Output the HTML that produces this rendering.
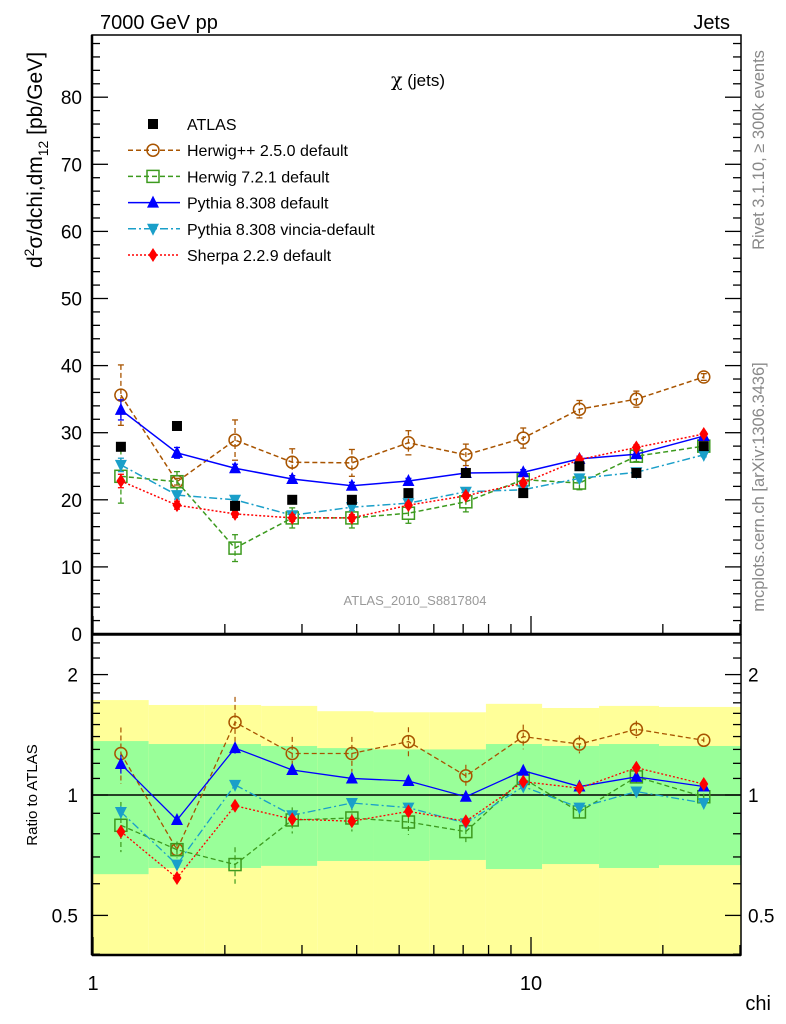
<!DOCTYPE html>
<html><head><meta charset="utf-8"><style>
body{margin:0;background:#fff}
svg{display:block;font-family:"Liberation Sans",sans-serif}
</style></head><body>
<svg id="c" width="786" height="1024" viewBox="0 0 786 1024"></svg>
<script>
const chis=[1.158,1.555,2.11,2.85,3.9,5.25,7.1,9.6,12.9,17.4,24.8];
const binEdges=[1.0,1.34,1.8,2.42,3.25,4.37,5.87,7.89,10.6,14.3,19.6,30.2];
const atlas=[27.9,31,19.1,20,20,21,24,21,25,24,28];
const herwigpp=[35.6,22.7,28.9,25.6,25.5,28.5,26.7,29.2,33.5,35,38.3];
const herwigppErr=[4.5,0.5,3,2,2,1.8,1.6,1.5,1.3,1.2,0.5];
const herwig7=[23.5,22.7,12.8,17.3,17.3,18,19.7,23,22.5,26.5,28];
const herwig7Err=[4,1.5,2,1.5,1.5,1.5,1.5,1,1,0.8,0.5];
const pythia=[33.4,27,24.7,23.1,22.1,22.8,24,24.1,26.1,26.8,29.5];
const pythiaErr=[1.5,0.8,0.6,0.5,0.5,0.4,0.4,0.4,0.4,0.4,0.3];
const vincia=[25.2,20.7,20,17.7,18.9,19.5,21.2,21.5,23.2,24.1,26.7];
const vinciaErr=[1,0.6,0.5,0.5,0.5,0.4,0.4,0.4,0.4,0.4,0.3];
const sherpa=[22.8,19.2,17.9,17.3,17.3,19.2,20.6,22.5,26,27.8,29.8];
const sherpaErr=[1,0.6,0.5,0.5,0.5,0.4,0.4,0.4,0.4,0.4,0.3];
const rHerwigpp=[1.27,0.73,1.52,1.27,1.27,1.36,1.116,1.40,1.34,1.46,1.37];
const rHerwig7=[0.84,0.73,0.67,0.866,0.876,0.856,0.81,1.10,0.907,1.11,0.99];
const rPythia=[1.195,0.866,1.31,1.155,1.10,1.084,0.99,1.15,1.05,1.11,1.05];
const rVincia=[0.907,0.67,1.06,0.89,0.955,0.93,0.85,1.05,0.93,1.02,0.955];
const rSherpa=[0.81,0.62,0.94,0.87,0.86,0.91,0.86,1.08,1.04,1.17,1.065];
const yellowTop=[1.727,1.679,1.679,1.67,1.62,1.61,1.61,1.69,1.65,1.67,1.66];
const greenTop=[1.364,1.341,1.341,1.326,1.31,1.30,1.30,1.341,1.326,1.341,1.326];
const greenBot=[0.634,0.657,0.657,0.665,0.684,0.684,0.688,0.653,0.672,0.657,0.668];
const mainTicks=[0,10,20,30,40,50,60,70,80];
const ratioTicks=[0.5,1,2];
const xTickLabels=[1,10];

const NS="http://www.w3.org/2000/svg";
const svg=document.getElementById('c');
const L=92,R=741,T=35,MB=634,RT=635,RB=955;
const X=c=>93+438*Math.log10(c);
const Y=v=>634-6.71*v;
const YR=r=>795-400*Math.log10(r);
function el(tag,attrs,parent){const e=document.createElementNS(NS,tag);for(const k in attrs)e.setAttribute(k,attrs[k]);(parent||svg).appendChild(e);return e;}
function txt(s,attrs,parent){const e=el('text',attrs,parent);e.textContent=s;return e;}

const gb=el('g',{});


for(let i=0;i<chis.length;i++){
  const x0=Math.max(X(binEdges[i]),L),x1=Math.min(X(binEdges[i+1]),R);
  const y=el('rect',{x:x0,y:YR(yellowTop[i]),width:x1-x0,height:RB-YR(yellowTop[i]),fill:'#ffff99'},gb);
  
  
  const g=el('rect',{x:x0,y:YR(greenTop[i]),width:x1-x0,height:YR(greenBot[i])-YR(greenTop[i]),fill:'#99ff99'},gb);
  
  
}
el('line',{x1:L,x2:R,y1:YR(1),y2:YR(1),stroke:'#000','stroke-width':1.5});

el('rect',{x:L,y:T,width:R-L,height:MB-T,fill:'none',stroke:'#000','stroke-width':1.5});
el('rect',{x:L,y:RT,width:R-L,height:RB-RT,fill:'none',stroke:'#000','stroke-width':1.5});
el('line',{x1:L,x2:L,y1:T,y2:RB,stroke:'#000','stroke-width':2.5});
el('line',{x1:L,x2:R,y1:MB,y2:MB,stroke:'#000','stroke-width':2.5});
el('line',{x1:L,x2:R,y1:RB,y2:RB,stroke:'#000','stroke-width':2.5});

for(let v=0;v<=88;v+=2){const maj=v%10==0;const l=maj?16:8;
  el('line',{x1:L,x2:L+l,y1:Y(v),y2:Y(v),stroke:'#000','stroke-width':1.3});
  el('line',{x1:R,x2:R-l,y1:Y(v),y2:Y(v),stroke:'#000','stroke-width':1.3});}
mainTicks.forEach(v=>{const t=txt(v,{x:82,y:Y(v)+7,'text-anchor':'end','font-size':19});
  
  });
const rMinor=[0.4,0.6,0.7,0.8,0.9,1.1,1.2,1.3,1.4,1.5,1.6,1.7,1.8,1.9,2.2,2.4];
rMinor.forEach(r=>{el('line',{x1:L,x2:L+8,y1:YR(r),y2:YR(r),stroke:'#000','stroke-width':1.3});el('line',{x1:R,x2:R-8,y1:YR(r),y2:YR(r),stroke:'#000','stroke-width':1.3});});
ratioTicks.forEach(r=>{el('line',{x1:L,x2:L+16,y1:YR(r),y2:YR(r),stroke:'#000','stroke-width':1.3});el('line',{x1:R,x2:R-16,y1:YR(r),y2:YR(r),stroke:'#000','stroke-width':1.3});
  const a=txt(r,{x:78,y:YR(r)+7,'text-anchor':'end','font-size':19});
  
  
  const b=txt(r,{x:748,y:YR(r)+7,'font-size':19});
  
  });
const xt=[];for(let d=1;d<=10;d*=10)for(let k=1;k<10;k++){const v=k*d;if(v<=30)xt.push(v);}
xt.forEach(v=>{const maj=(v==1||v==10);const l=maj?18:10;
  [MB,RB].forEach(b=>el('line',{x1:X(v),x2:X(v),y1:b,y2:b-l,stroke:'#000','stroke-width':1.3}));});
xTickLabels.forEach(v=>{const t=txt(v,{x:X(v),y:990,'text-anchor':'middle','font-size':20});
  
  });

function marker(type,x,y,color,g){
  if(type=='sq')el('rect',{x:x-5,y:y-5,width:10,height:10,fill:'#000'},g);
  else if(type=='circ')el('circle',{cx:x,cy:y,r:6,fill:'none',stroke:color,'stroke-width':1.5},g);
  else if(type=='osq')el('rect',{x:x-6,y:y-6,width:12,height:12,fill:'none',stroke:color,'stroke-width':1.5},g);
  else if(type=='tu')el('polygon',{points:`${x},${y-7} ${x-6},${y+5} ${x+6},${y+5}`,fill:color},g);
  else if(type=='td')el('polygon',{points:`${x},${y+7} ${x-6},${y-5} ${x+6},${y-5}`,fill:color},g);
  else if(type=='dia')el('polygon',{points:`${x},${y-7} ${x-4.5},${y} ${x},${y+7} ${x+4.5},${y}`,fill:color},g);
}
const series=[
 {name:'herwigpp',vals:herwigpp,err:herwigppErr,rv:rHerwigpp,color:'#a85400',dash:'5,3',m:'circ'},
 {name:'herwig7',vals:herwig7,err:herwig7Err,rv:rHerwig7,color:'#3c9a1e',dash:'5,3',m:'osq'},
 {name:'pythia',vals:pythia,err:pythiaErr,rv:rPythia,color:'#0000ff',dash:'',m:'tu'},
 {name:'vincia',vals:vincia,err:vinciaErr,rv:rVincia,color:'#1a9fc9',dash:'8,3,2,3',m:'td'},
 {name:'sherpa',vals:sherpa,err:sherpaErr,rv:rSherpa,color:'#ff0000',dash:'2,2',m:'dia'}];
series.forEach(s=>{
  const g=el('g',{});
  
  
  el('polyline',{points:chis.map((c,i)=>X(c)+','+Y(s.vals[i])).join(' '),fill:'none',stroke:s.color,'stroke-width':1.5,'stroke-dasharray':s.dash},g);
  el('polyline',{points:chis.map((c,i)=>X(c)+','+YR(s.rv[i])).join(' '),fill:'none',stroke:s.color,'stroke-width':1.3,'stroke-dasharray':s.dash},g);
  chis.forEach((c,i)=>{const x=X(c);
    const y0=Y(s.vals[i]+s.err[i]),y1=Y(s.vals[i]-s.err[i]);
    el('line',{x1:x,x2:x,y1:y0,y2:y1,stroke:s.color,'stroke-width':1.3,'stroke-dasharray':s.dash},g);
    el('line',{x1:x-3,x2:x+3,y1:y0,y2:y0,stroke:s.color,'stroke-width':1.3},g);
    el('line',{x1:x-3,x2:x+3,y1:y1,y2:y1,stroke:s.color,'stroke-width':1.3},g);
    const rel=s.err[i]/atlas[i];
    const r0=YR(s.rv[i]*(1+rel)),r1=YR(s.rv[i]*(1-rel));
    el('line',{x1:x,x2:x,y1:r0,y2:r1,stroke:s.color,'stroke-width':1.2,'stroke-dasharray':s.dash},g);
    marker(s.m,x,Y(s.vals[i]),s.color,g);
    marker(s.m,x,YR(s.rv[i]),s.color,g);
  });
});
const ga=el('g',{});


chis.forEach((c,i)=>marker('sq',X(c),Y(atlas[i]),'#000',ga));

const leg=[['ATLAS','#000','','sq'],['Herwig++ 2.5.0 default','#a85400','5,3','circ'],['Herwig 7.2.1 default','#3c9a1e','5,3','osq'],['Pythia 8.308 default','#0000ff','','tu'],['Pythia 8.308 vincia-default','#1a9fc9','8,3,2,3','td'],['Sherpa 2.2.9 default','#ff0000','2,2','dia']];
leg.forEach((e,i)=>{const y=124+i*26.2;const g=el('g',{});
  
  
  if(i>0)el('line',{x1:128,x2:180,y1:y,y2:y,stroke:e[1],'stroke-width':1.5,'stroke-dasharray':e[2]},g);
  marker(e[3],153,y,e[1],g);
  txt(e[0],{x:187,y:y+6,'font-size':16},g);});
</script>
<div style="position:absolute;left:0;top:0;width:786px;height:1024px;pointer-events:none">
<svg width="786" height="1024" style="font-family:'Liberation Sans',sans-serif">
<text x="100" y="29" font-size="20">7000 GeV pp</text>
<text x="730" y="29" font-size="20" text-anchor="end">Jets</text>
<text x="418" y="86" font-size="17" text-anchor="middle"><tspan font-family="'DejaVu Serif',serif" font-size="19">χ</tspan> (jets)</text>
<text x="415" y="605" font-size="13" fill="#999" text-anchor="middle">ATLAS_2010_S8817804</text>
<text transform="translate(42,160) rotate(-90)" font-size="21" text-anchor="middle">d<tspan dy="-8" font-size="14">2</tspan><tspan dy="8">σ/dchi,dm</tspan><tspan dy="6" font-size="14">12</tspan><tspan dy="-6"> [pb/GeV]</tspan></text>
<text transform="translate(37,795) rotate(-90)" font-size="15" text-anchor="middle">Ratio to ATLAS</text>
<text transform="translate(764,150) rotate(-90)" font-size="16.5" fill="#888" text-anchor="middle">Rivet 3.1.10, ≥ 300k events</text>
<text transform="translate(764,487) rotate(-90)" font-size="16.5" fill="#888" text-anchor="middle">mcplots.cern.ch [arXiv:1306.3436]</text>
<text x="771" y="1010" font-size="20" text-anchor="end">chi</text>
</svg></div>
</body></html>
